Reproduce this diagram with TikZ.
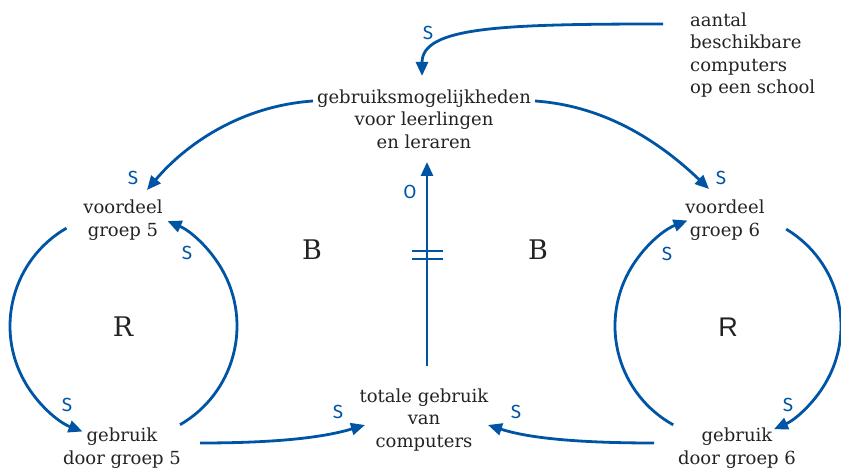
\documentclass[tikz,border=0pt]{standalone}
\usepackage{fontspec}
\setmainfont{DejaVu Serif}
\newfontfamily\labfont{Fira Sans}
\newfontfamily\rsans{Liberation Sans}
\usetikzlibrary{arrows.meta,calc}
\definecolor{cblue}{RGB}{0,84,164}
\definecolor{ctext}{RGB}{35,35,35}
\begin{document}
\begin{tikzpicture}[x=1pt,y=-1pt,
  txt/.style={text=ctext, font=\fontsize{18}{22.5}\selectfont, align=center, inner sep=0pt},
  lbl/.style={text=cblue, font=\labfont\fontsize{19}{19}\selectfont, inner sep=0pt},
  big/.style={text=ctext, font=\fontsize{27}{27}\selectfont, inner sep=0pt},
  link/.style={draw=cblue, line width=2.8pt, -{Triangle[length=14pt,width=12pt]}},
  plain/.style={draw=cblue, line width=2.8pt}]
\useasboundingbox (0,0) rectangle (841,470);

% nodes
\node[txt] (top) at (424,119) {gebruiksmogelijkheden\\voor leerlingen\\en leraren};
\node[txt, align=left, anchor=west] (ant) at (690,55) {aantal\\beschikbare\\computers\\op een school};
\node[txt] (v5) at (123,220) {voordeel\\groep 5};
\node[txt] (v6) at (725,220) {voordeel\\groep 6};
\node[txt] (g5) at (122,448) {gebruik\\door groep 5};
\node[txt] (g6) at (737,448) {gebruik\\door groep 6};
\node[txt] (tot) at (424,420) {totale gebruik\\van\\computers};

% loop labels
\node[big] (b1) at (312,250) {B};
\node[big] (b2) at (538,250) {B};
\node[big] (r1) at (123,327) {R};
\node[big, font=\rsans\fontsize{27}{27}\selectfont] (r2) at (728,327) {R};

% centres of loops
\coordinate (c5) at (123,326);
\coordinate (c6) at (728,326);

% connector end points
\coordinate (antS) at (663,24);
\coordinate (topT) at (422,76);
\coordinate (topL) at (313,101);
\coordinate (v5T) at (147,190);
\coordinate (topR) at (535,101);
\coordinate (v6T) at (709,189);
\coordinate (l5s) at ($(c5)+(240:113)$);
\coordinate (l5e) at ($(c5)+(111:113)$);
\coordinate (r5s) at ($(c5)+(60:114)$);
\coordinate (r5e) at ($(c5)+(-67:114)$);
\coordinate (r6s) at ($(c6)+(-59:113)$);
\coordinate (r6e) at ($(c6)+(66:113)$);
\coordinate (l6s) at ($(c6)+(119:113)$);
\coordinate (l6e) at ($(c6)+(249:113)$);
\coordinate (g5s) at (200,443);
\coordinate (totL) at (365,425);
\coordinate (g6s) at (654,443);
\coordinate (totR) at (488,425);
\coordinate (totT) at (427,366);
\coordinate (topB) at (427,162);

% connectors
\draw[link] (antS) .. controls (500,24) and (422,27) .. (topT);
\draw[link] (topL) .. controls (240,106) and (185,145) .. (v5T);
\draw[link] (topR) .. controls (608,106) and (663,145) .. (v6T);
\draw[link] (l5s) arc[start angle=240, end angle=111, radius=113];
\draw[link] (r5s) arc[start angle=60, end angle=-67, radius=114];
\draw[link] (r6s) arc[start angle=-59, end angle=66, radius=113];
\draw[link] (l6s) arc[start angle=119, end angle=249, radius=113];
\draw[link] (g5s) .. controls (280,443) and (325,437) .. (totL);
\draw[link] (g6s) .. controls (570,443) and (525,437) .. (totR);
\draw[link] (totT) -- (topB);
\draw[plain] (412,251) -- (443,251);
\draw[plain] (412,259) -- (443,259);

% polarity labels
\node[lbl] (s1) at (428,33) {S};
\node[lbl] (s2) at (133,178) {S};
\node[lbl] (s3) at (187,253) {S};
\node[lbl] (s4) at (67,405) {S};
\node[lbl] (s5) at (338,412) {S};
\node[lbl] (s6) at (516,412) {S};
\node[lbl] (s7) at (721,178) {S};
\node[lbl] (s8) at (667,254) {S};
\node[lbl] (s9) at (788,405) {S};
\node[lbl] (o1) at (410,192) {O};
\end{tikzpicture}
\end{document}
